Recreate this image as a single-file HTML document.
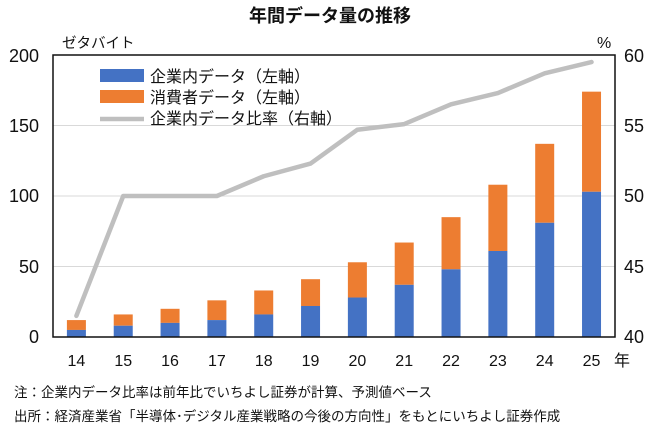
<!DOCTYPE html><html><head><meta charset="utf-8"><style>body{margin:0;background:#fff}svg{display:block}text{font-family:"Liberation Sans","Noto Sans CJK JP",sans-serif}</style></head><body>
<svg width="660" height="431" xmlns="http://www.w3.org/2000/svg">
<text x="330" y="22" font-size="18" font-weight="bold" text-anchor="middle" fill="#111">年間データ量の推移</text>
<text x="62" y="48" font-size="14.5" fill="#111">ゼタバイト</text>
<text x="597" y="48" font-size="16" fill="#111">%</text>
<g stroke="#d9d9d9" stroke-width="1">
<line x1="53" y1="125.5" x2="615" y2="125.5"/><line x1="53" y1="196" x2="615" y2="196"/><line x1="53" y1="266.5" x2="615" y2="266.5"/></g>
<g font-size="18" fill="#111" text-anchor="end">
<text x="39" y="62">200</text><text x="39" y="132">150</text><text x="39" y="202">100</text><text x="39" y="273">50</text><text x="39" y="343">0</text></g>
<g font-size="18" fill="#111">
<text x="624" y="62">60</text><text x="624" y="132">55</text><text x="624" y="202">50</text><text x="624" y="273">45</text><text x="624" y="343">40</text></g>
<g id="bars"></g>
<g font-size="16" fill="#111" text-anchor="middle" id="xl"></g>
<text x="614" y="366" font-size="16" fill="#111">年</text>
<rect x="53" y="55" width="562" height="282" fill="none" stroke="#111" stroke-width="1.5"/>
<polyline id="ln" fill="none" stroke="#bfbfbf" stroke-width="4.5" stroke-linejoin="round" stroke-linecap="round"/>
<rect x="100" y="69" width="44" height="13" fill="#4472c4"/>
<rect x="100" y="90" width="44" height="13" fill="#ed7d31"/>
<line x1="100" y1="119" x2="144" y2="119" stroke="#bfbfbf" stroke-width="4.5"/>
<g font-size="16" fill="#111"><text x="150" y="82">企業内データ（左軸）</text><text x="150" y="103">消費者データ（左軸）</text><text x="150" y="124">企業内データ比率（右軸）</text></g>
<text x="14" y="397" font-size="13.5" fill="#111">注：企業内データ比率は前年比でいちよし証券が計算、予測値ベース</text>
<text x="14" y="421" font-size="13.5" fill="#111">出所：経済産業省「半導体･デジタル産業戦略の今後の方向性」をもとにいちよし証券作成</text>
</svg>
<script>
var tot=[12,16,20,26,33,41,53,67,85,108,137,174],bl=[5,8,10,12,16,22,28,37,48,61,81,103],pc=[41.5,50,50,50,51.4,52.3,54.7,55.1,56.5,57.3,58.7,59.5];
var ns="http://www.w3.org/2000/svg",b=document.getElementById("bars"),xl=document.getElementById("xl"),pts=[];
for(var i=0;i<12;i++){var cx=53+23.4+46.83*i;
function r(y,h,c){var e=document.createElementNS(ns,"rect");e.setAttribute("x",cx-9.5);e.setAttribute("y",y);e.setAttribute("width",19);e.setAttribute("height",h);e.setAttribute("fill",c);b.appendChild(e);}
var yt=337-tot[i]*1.41,yb=337-bl[i]*1.41;r(yt,yb-yt,"#ed7d31");r(yb,337-yb,"#4472c4");
var t=document.createElementNS(ns,"text");t.setAttribute("x",cx);t.setAttribute("y",366);t.textContent=14+i;xl.appendChild(t);
pts.push(cx+","+(337-(pc[i]-40)*14.1));}
document.getElementById("ln").setAttribute("points",pts.join(" "));
</script>
</body></html>
